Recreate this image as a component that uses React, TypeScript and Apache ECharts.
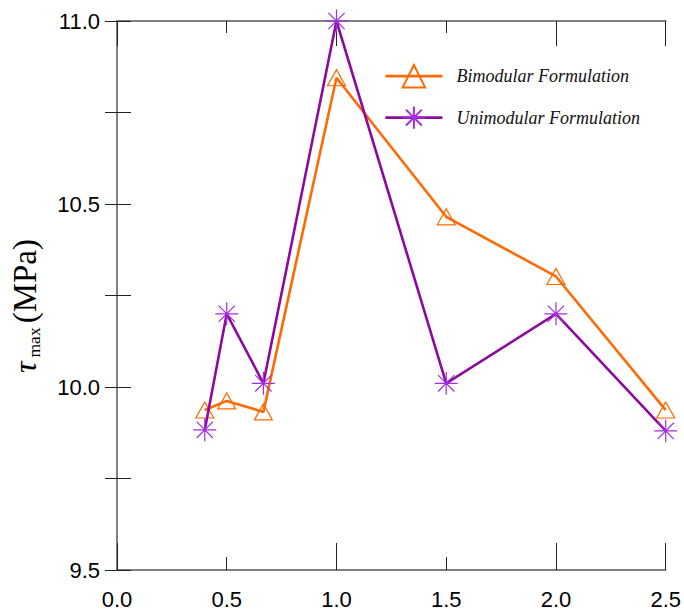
import React, { useEffect, useRef } from "react";
import * as echarts from "echarts";

// x positions and stress values for the two formulations
const xValues = [0.4, 0.5, 0.667, 1.0, 1.5, 2.0, 2.5];
const bimodular = [9.937, 9.962, 9.932, 10.845, 10.465, 10.302, 9.937];
const unimodular = [9.883, 10.2, 10.01, 11.0, 10.01, 10.2, 9.88];
const seriesNames = ["Bimodular Formulation", "Unimodular Formulation"];

const ORANGE = "#ff6a00";
const PURPLE_LINE = "#8c0a9e";
const PURPLE_MARK = "#a12ee0";
const STAR = "path://M12,0L12,24M0,12L24,12M3.5,3.5L20.5,20.5M20.5,3.5L3.5,20.5";

const sans = "Liberation Sans, Arial, sans-serif";
const serif = "Liberation Serif, Times New Roman, serif";

export default function App() {
  const ref = useRef<HTMLDivElement>(null);

  useEffect(() => {
    document.body.style.margin = "0";
    const chart = echarts.init(ref.current!, null, { renderer: "svg" });

    const axisLine = { show: true, lineStyle: { color: "#777", width: 1.5 } };
    const tickStyle = { color: "#222", width: 1 };

    const xBase = {
      type: "value" as const,
      min: 0,
      max: 2.5,
      splitLine: { show: false },
      axisLine,
    };
    const yBase = {
      type: "value" as const,
      min: 9.5,
      max: 11,
      interval: 0.25,
      splitLine: { show: false },
      axisLine,
    };

    chart.setOption({
      animation: false,
      backgroundColor: "#fff",
      grid: { left: 117, right: 18, top: 21, bottom: 43, containLabel: false },
      xAxis: [
        {
          ...xBase,
          position: "bottom",
          interval: 0.5,
          axisTick: { inside: true, length: 13, lineStyle: tickStyle },
          axisLabel: {
            margin: 18,
            fontSize: 22,
            fontFamily: sans,
            color: "#000",
            formatter: (v: number) => v.toFixed(1),
          },
        },
        {
          ...xBase,
          position: "bottom",
          interval: 1,
          axisTick: { inside: true, length: 27, lineStyle: tickStyle },
          axisLabel: { show: false },
        },
        {
          ...xBase,
          position: "top",
          interval: 0.5,
          axisTick: { inside: true, length: 12, lineStyle: tickStyle },
          axisLabel: { show: false },
        },
        {
          ...xBase,
          position: "top",
          interval: 1,
          axisTick: { inside: true, length: 25, lineStyle: tickStyle },
          axisLabel: { show: false },
        },
      ],
      yAxis: [
        {
          ...yBase,
          position: "left",
          axisTick: { inside: true, length: 14, lineStyle: tickStyle },
          axisLabel: {
            margin: 17,
            fontSize: 22,
            fontFamily: sans,
            color: "#000",
            formatter: (v: number) =>
              Math.abs(v * 2 - Math.round(v * 2)) < 1e-6 ? v.toFixed(1) : "",
          },
        },
        {
          ...yBase,
          position: "right",
          axisTick: { inside: true, length: 12, lineStyle: tickStyle },
          axisLabel: { show: false },
        },
      ],
      legend: {
        orient: "vertical",
        left: 379,
        top: 59,
        itemWidth: 57,
        itemHeight: 28,
        itemGap: 17,
        data: seriesNames,
        lineStyle: { width: 2.8 },
        textStyle: {
          fontFamily: serif,
          fontStyle: "italic",
          fontSize: 18,
          color: "#111",
          padding: [0, 0, 0, 9],
        },
      },
      graphic: [
        {
          type: "text",
          x: 25,
          y: 306,
          rotation: Math.PI / 2,
          style: {
            text: "{t|τ}{s|max}{u|(MPa)}",
            align: "center",
            verticalAlign: "middle",
            fill: "#000",
            rich: {
              t: { fontFamily: serif, fontStyle: "italic", fontSize: 32, lineHeight: 36 },
              s: {
                fontFamily: serif,
                fontSize: 17.5,
                verticalAlign: "bottom",
                lineHeight: 12,
                padding: [0, 4, 0, 4],
              },
              u: { fontFamily: serif, fontSize: 33, lineHeight: 36 },
            },
          },
        },
      ],
      series: [
        {
          name: seriesNames[0],
          type: "line",
          xAxisIndex: 0,
          yAxisIndex: 0,
          data: xValues.map((x, i) => [x, bimodular[i]]),
          symbol: "triangle",
          symbolSize: [18, 16],
          lineStyle: { color: ORANGE, width: 2.6 },
          itemStyle: { color: "rgba(255,255,255,0)", borderColor: ORANGE, borderWidth: 1.2 },
          z: 2,
        },
        {
          name: seriesNames[1],
          type: "line",
          xAxisIndex: 0,
          yAxisIndex: 0,
          data: xValues.map((x, i) => [x, unimodular[i]]),
          symbol: STAR,
          symbolSize: 23,
          lineStyle: { color: PURPLE_LINE, width: 2.6 },
          itemStyle: { color: "rgba(255,255,255,0)", borderColor: PURPLE_MARK, borderWidth: 1.2 },
          z: 3,
        },
      ],
    });

    return () => chart.dispose();
  }, []);

  return (
    <div
      ref={ref}
      style={{ position: "absolute", left: 0, top: 0, width: 684, height: 613 }}
    />
  );
}
